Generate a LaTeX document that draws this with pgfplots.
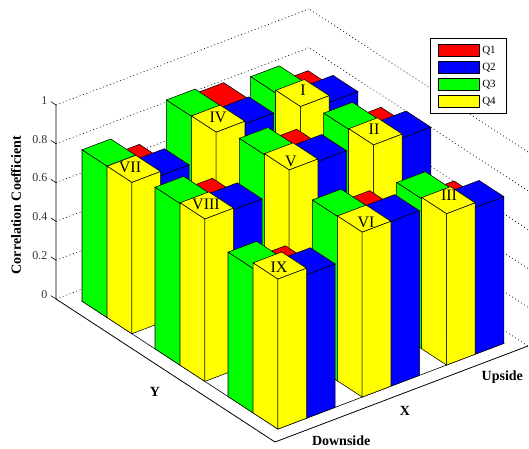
\documentclass[border=0pt]{standalone}
\usepackage{fontspec}
\setmainfont{Liberation Serif}
\usepackage{pgfplots}
\pgfplotsset{compat=1.18}
\definecolor{qr}{RGB}{255,0,0}
\definecolor{qb}{RGB}{0,0,255}
\definecolor{qg}{RGB}{0,255,0}
\definecolor{qy}{RGB}{255,255,0}
\newcommand{\OneBar}[6]{%
\addplot3[forget plot,fill=#6,draw=black,line width=0.55pt] coordinates {(#1,#3,#5)(#2,#3,#5)(#2,#4,#5)(#1,#4,#5)(#1,#3,#5)};
\addplot3[forget plot,fill=#6,draw=black,line width=0.55pt] coordinates {(#1,#3,0)(#1,#4,0)(#1,#4,#5)(#1,#3,#5)(#1,#3,0)};
\addplot3[forget plot,fill=#6,draw=black,line width=0.55pt] coordinates {(#1,#3,0)(#2,#3,0)(#2,#3,#5)(#1,#3,#5)(#1,#3,0)};
}
\newcommand{\Group}[6]{%
\pgfmathsetmacro\xa{#1+0.17}\pgfmathsetmacro\xb{#1+0.51}\pgfmathsetmacro\xc{#1+0.85}%
\pgfmathsetmacro\ya{#2+0.157}\pgfmathsetmacro\yb{#2+0.497}\pgfmathsetmacro\yc{#2+0.84}%
\OneBar{\xb}{\xc}{\yb}{\yc}{#3}{qr}
\OneBar{\xa}{\xb}{\yb}{\yc}{#5}{qg}
\OneBar{\xb}{\xc}{\ya}{\yb}{#4}{qb}
\OneBar{\xa}{\xb}{\ya}{\yb}{#6}{qy}
}
\begin{document}
\begin{tikzpicture}[x=1pt,y=1pt]
\useasboundingbox (0,0) rectangle (529,448);
\begin{axis}[
  at={(275pt,6pt)},anchor=origin,
  x={(84.33pt,32pt)},y={(-73pt,47.67pt)},z={(0pt,194pt)},
  xmin=0,xmax=3,ymin=0,ymax=3,zmin=0,zmax=1,
  clip=false,
  axis line style={draw=none},
  xtick={0.65,2.57},xticklabels={Downside,Upside},
  ytick=\empty,
  ztick={0,0.2,0.4,0.6,0.8,1},zticklabels={0,0.2,0.4,0.6,0.8,1},
  z tick label style={font=\fontsize{12}{12}\selectfont,text=black!80,xshift=-5pt,yshift=3.5pt},
  x tick label style={font=\fontsize{14}{14}\selectfont\bfseries,xshift=2pt,yshift=-2pt},
  x tick style={draw=none},
  z tick style={draw=none},
  major tick length=5pt,
  zmajorgrids=true,
  major grid style={dash pattern=on 1pt off 2.6pt,black,line width=0.6pt},
  legend cell align=left,
  legend style={at={(0.7915,0.932)},anchor=north west,font=\fontsize{11}{11}\selectfont,draw=black,line width=0.8pt,row sep=4pt,
    inner xsep=8pt,inner ysep=5.5pt,nodes={inner xsep=2.5pt}},
  legend image code/.code={\draw[#1,line width=0.8pt] (0pt,-6pt) rectangle (41pt,6pt);},
]
\addlegendimage{fill=qr,draw=black}\addlegendentry{Q1}
\addlegendimage{fill=qb,draw=black}\addlegendentry{Q2}
\addlegendimage{fill=qg,draw=black}\addlegendentry{Q3}
\addlegendimage{fill=qy,draw=black}\addlegendentry{Q4}
\addplot3[forget plot,black,line width=0.8pt] coordinates {(0,3,1)(0,3,0)(0,0,0)(3,0,0)};
\addplot3[forget plot,black,line width=0.6pt] coordinates {(0,3,0)(0,3.07,0)};
\addplot3[forget plot,black,line width=0.6pt] coordinates {(0,3,0.2)(0,3.07,0.2)};
\addplot3[forget plot,black,line width=0.6pt] coordinates {(0,3,0.4)(0,3.07,0.4)};
\addplot3[forget plot,black,line width=0.6pt] coordinates {(0,3,0.6)(0,3.07,0.6)};
\addplot3[forget plot,black,line width=0.6pt] coordinates {(0,3,0.8)(0,3.07,0.8)};
\addplot3[forget plot,black,line width=0.6pt] coordinates {(0,3,1)(0,3.07,1)};
\addplot3[forget plot,fill=white,draw=black,line width=0.6pt] coordinates {(0.17,0.157,0)(2.85,0.157,0)(2.85,2.84,0)(0.17,2.84,0)(0.17,0.157,0)};
% group x, group y, Q1, Q2, Q3, Q4
\Group{2}{2}{0.746}{0.806}{0.827}{0.841}% I
\Group{1}{2}{0.849}{0.860}{0.872}{0.874}% IV
\Group{0}{2}{0.696}{0.758}{0.780}{0.780}% VII
\Group{2}{1}{0.803}{0.868}{0.885}{0.889}% II
\Group{1}{1}{0.855}{0.912}{0.920}{0.925}% V
\Group{0}{1}{0.767}{0.828}{0.833}{0.837}% VIII
\Group{2}{0}{0.669}{0.756}{0.773}{0.780}% III
\Group{1}{0}{0.784}{0.848}{0.848}{0.850}% VI
\Group{0}{0}{0.665}{0.739}{0.744}{0.773}% IX
\end{axis}
\newcommand{\px}[3]{\node[inner sep=0pt,font=\fontsize{16}{16}\selectfont] at (#1,448-#2) {#3};}
\px{303}{90}{I}\px{374}{129}{II}\px{449}{195}{III}
\px{218}{117}{IV}\px{291}{161}{V}\px{366}{222}{VI}
\px{130}{167}{VII}\px{206}{204}{VIII}\px{279}{267}{IX}
\node[font=\fontsize{14}{14}\selectfont\bfseries,inner sep=0pt] at (155,448-392) {Y};
\node[font=\fontsize{14}{14}\selectfont\bfseries,inner sep=0pt] at (405,448-411) {X};
\node[font=\fontsize{14}{14}\selectfont\bfseries,inner sep=0pt,rotate=90] at (16,448-205) {Correlation Coefficient};
\end{tikzpicture}
\end{document}
